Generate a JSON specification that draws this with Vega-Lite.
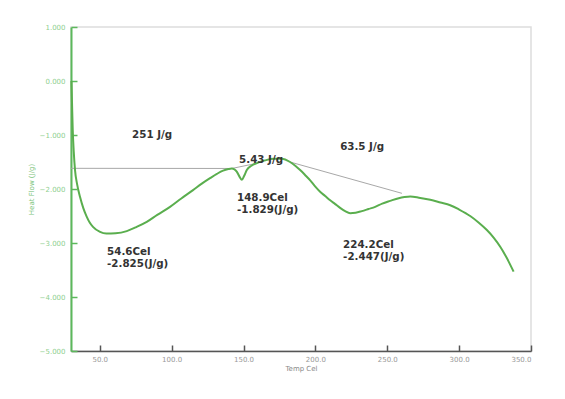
{
  "$schema": "https://vega.github.io/schema/vega-lite/v6.json",
  "width": 460,
  "height": 324,
  "autosize": {"type": "none"},
  "padding": {"left": 71, "top": 27, "right": 34, "bottom": 48},
  "background": "white",
  "config": {
    "view": {"stroke": "#dddddd", "strokeWidth": 1.5},
    "font": "DejaVu Sans"
  },
  "datasets": {
    "curve": [
      {"t": 30.3, "hf": 0.0},
      {"t": 30.7, "hf": -0.4},
      {"t": 31.2, "hf": -0.9},
      {"t": 31.9, "hf": -1.3},
      {"t": 32.8, "hf": -1.65},
      {"t": 34.3, "hf": -1.92},
      {"t": 36.3, "hf": -2.15},
      {"t": 38.5, "hf": -2.35},
      {"t": 40.9, "hf": -2.51},
      {"t": 43.0, "hf": -2.62},
      {"t": 45.3, "hf": -2.70},
      {"t": 50.2, "hf": -2.795},
      {"t": 54.6, "hf": -2.825},
      {"t": 61.0, "hf": -2.82},
      {"t": 68.8, "hf": -2.78},
      {"t": 75.0, "hf": -2.71},
      {"t": 82.7, "hf": -2.61},
      {"t": 90.0, "hf": -2.48},
      {"t": 98.9, "hf": -2.33},
      {"t": 106.5, "hf": -2.18},
      {"t": 114.9, "hf": -2.02},
      {"t": 121.0, "hf": -1.90},
      {"t": 126.7, "hf": -1.80},
      {"t": 131.5, "hf": -1.72},
      {"t": 135.8, "hf": -1.66},
      {"t": 139.5, "hf": -1.63},
      {"t": 141.9, "hf": -1.62},
      {"t": 143.8, "hf": -1.64},
      {"t": 145.3, "hf": -1.68},
      {"t": 147.2, "hf": -1.77},
      {"t": 148.9, "hf": -1.829},
      {"t": 150.4, "hf": -1.76},
      {"t": 152.3, "hf": -1.65},
      {"t": 155.5, "hf": -1.57},
      {"t": 159.3, "hf": -1.52},
      {"t": 165.0, "hf": -1.47},
      {"t": 171.0, "hf": -1.44},
      {"t": 176.5, "hf": -1.44},
      {"t": 182.4, "hf": -1.50},
      {"t": 186.0, "hf": -1.57},
      {"t": 189.4, "hf": -1.65},
      {"t": 192.8, "hf": -1.74},
      {"t": 196.4, "hf": -1.84},
      {"t": 199.8, "hf": -1.95},
      {"t": 203.3, "hf": -2.05},
      {"t": 206.8, "hf": -2.13},
      {"t": 210.3, "hf": -2.21},
      {"t": 213.8, "hf": -2.28},
      {"t": 217.2, "hf": -2.35},
      {"t": 220.7, "hf": -2.41},
      {"t": 224.2, "hf": -2.447},
      {"t": 228.0, "hf": -2.44},
      {"t": 232.3, "hf": -2.41},
      {"t": 237.0, "hf": -2.37},
      {"t": 241.6, "hf": -2.33},
      {"t": 246.5, "hf": -2.27},
      {"t": 252.0, "hf": -2.22},
      {"t": 258.0, "hf": -2.17},
      {"t": 262.0, "hf": -2.15},
      {"t": 266.0, "hf": -2.14},
      {"t": 272.0, "hf": -2.16},
      {"t": 279.9, "hf": -2.20},
      {"t": 287.0, "hf": -2.25},
      {"t": 293.8, "hf": -2.30},
      {"t": 300.0, "hf": -2.38},
      {"t": 307.7, "hf": -2.50},
      {"t": 313.5, "hf": -2.62},
      {"t": 319.3, "hf": -2.76},
      {"t": 324.0, "hf": -2.90},
      {"t": 328.6, "hf": -3.07},
      {"t": 333.0, "hf": -3.27},
      {"t": 337.9, "hf": -3.53}
    ],
    "baselines": [
      {"peak": "p1", "t": 30.0, "hf": -1.617},
      {"peak": "p1", "t": 141.9, "hf": -1.62},
      {"peak": "p2", "t": 141.9, "hf": -1.62},
      {"peak": "p2", "t": 160.0, "hf": -1.52},
      {"peak": "p3", "t": 182.4, "hf": -1.50},
      {"peak": "p3", "t": 260.2, "hf": -2.08}
    ],
    "areas": [
      {"t": 86.4, "hf": -1.0, "label": "251 J/g"},
      {"t": 162.2, "hf": -1.46, "label": "5.43 J/g"},
      {"t": 232.5, "hf": -1.22, "label": "63.5 J/g"}
    ],
    "peaks": [
      {"t": 55.1, "hf": -3.17, "label": "54.6Cel"},
      {"t": 55.1, "hf": -3.39, "label": "-2.825(J/g)"},
      {"t": 145.5, "hf": -2.17, "label": "148.9Cel"},
      {"t": 145.5, "hf": -2.39, "label": "-1.829(J/g)"},
      {"t": 219.3, "hf": -3.04, "label": "224.2Cel"},
      {"t": 219.3, "hf": -3.26, "label": "-2.447(J/g)"}
    ]
  },
  "layer": [
    {
      "data": {"name": "baselines"},
      "mark": {"type": "line", "color": "#a8a8a8", "strokeWidth": 1},
      "encoding": {
        "x": {
          "field": "t", "type": "quantitative",
          "scale": {"domain": [30, 350], "nice": false, "zero": false},
          "axis": {
            "title": "Temp Cel",
            "values": [50, 100, 150, 200, 250, 300, 350],
            "format": ".1f",
            "grid": false,
            "domainColor": "#555555",
            "domainWidth": 1.5,
            "tickColor": "#555555",
            "tickWidth": 1.5,
            "tickSize": -6,
            "labelPadding": 10,
            "labelFontSize": 7,
            "labelColor": "#999999",
            "titleFontSize": 7,
            "titleFontWeight": "normal",
            "titleColor": "#888888",
            "titlePadding": 2
          }
        },
        "y": {
          "field": "hf", "type": "quantitative",
          "scale": {"domain": [-5, 1], "nice": false, "zero": false},
          "axis": {
            "title": "Heat Flow (J/g)",
            "values": [1, 0, -1, -2, -3, -4, -5],
            "format": ".3f",
            "grid": false,
            "domainColor": "#5cb85c",
            "domainWidth": 2,
            "tickColor": "#5cb85c",
            "tickWidth": 1.5,
            "tickSize": -6,
            "labelPadding": 12,
            "labelFontSize": 7,
            "labelColor": "#8fcf8f",
            "titleFontSize": 7,
            "titleFontWeight": "normal",
            "titleColor": "#7cc47c",
            "titlePadding": 5
          }
        },
        "detail": {"field": "peak"}
      }
    },
    {
      "data": {"name": "curve"},
      "mark": {"type": "line", "color": "#5aae4e", "strokeWidth": 2, "interpolate": "monotone"},
      "encoding": {
        "x": {"field": "t", "type": "quantitative"},
        "y": {"field": "hf", "type": "quantitative"}
      }
    },
    {
      "data": {"name": "areas"},
      "mark": {"type": "text", "fontSize": 10.3, "fontWeight": "bold", "color": "#333333", "align": "center", "baseline": "middle"},
      "encoding": {
        "x": {"field": "t", "type": "quantitative"},
        "y": {"field": "hf", "type": "quantitative"},
        "text": {"field": "label"}
      }
    },
    {
      "data": {"name": "peaks"},
      "mark": {"type": "text", "fontSize": 10.3, "fontWeight": "bold", "color": "#333333", "align": "left", "baseline": "middle"},
      "encoding": {
        "x": {"field": "t", "type": "quantitative"},
        "y": {"field": "hf", "type": "quantitative"},
        "text": {"field": "label"}
      }
    }
  ]
}
